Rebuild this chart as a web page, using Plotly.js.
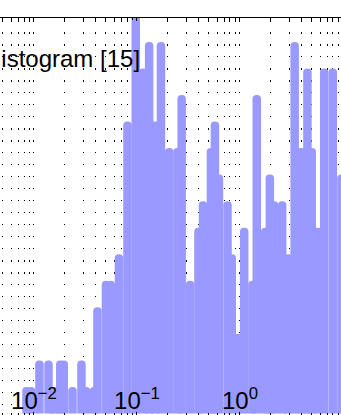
<!DOCTYPE html>
<html><head><meta charset="utf-8">
<script src="https://cdn.plot.ly/plotly-3.0.1.min.js"></script>
<style>html,body{margin:0;padding:0;background:#fff;overflow:hidden}#chart{width:341px;height:415px}</style>
</head><body><div id="chart"></div>
<script>
// bar positions (log10 of x) and counts, read left to right
const binLog10 = [-2.073,-2.029,-1.947,-1.859,-1.801,-1.745,-1.711,-1.626,-1.539,-1.495,-1.416,-1.384,-1.301,-1.255,-1.175,-1.092,-1.012,-0.942,-0.882,-0.825,-0.767,-0.687,-0.607,-0.566,-0.484,-0.403,-0.359,-0.282,-0.243,-0.204,-0.121,-0.080,-0.019,0.041,0.121,0.163,0.245,0.290,0.332,0.410,0.466,0.531,0.595,0.655,0.697,0.757,0.818,0.901,0.985];
const counts   = [1,1,2,2,1,2,2,1,2,1,1,4,5,5,6,11,16,13,14,11,14,10,10,12,5,7,8,10,11,9,8,6,3,7,5,12,7,9,8,8,6,14,10,13,10,7,13,13,9];
const tickExps   = [-2,-1,0];
const tickLabels = ['10<sup>\u22122</sup>','10<sup>\u22121</sup>','10<sup>0</sup>'];
const seriesName = 'Histogram [15]';

const minorVals = [];
for (let n=-3;n<=0;n++) for (let k=2;k<=9;k++) minorVals.push(Math.log10(k)+n);

const font = {family:'"Liberation Sans", Arial, Helvetica, sans-serif', color:'#000', size:24};

Plotly.newPlot('chart', [{
  type:'bar', x: binLog10, y: counts, name: seriesName,
  width: 0.0825,
  marker:{color:'#9999ff', line:{width:0}, cornerradius:4},
  showlegend:false, hoverinfo:'skip'
}], {
  width:341, height:415,
  margin:{l:0,r:0,t:18,b:0,pad:0},
  paper_bgcolor:'#fff', plot_bgcolor:'#fff',
  barmode:'overlay',
  font: font,
  xaxis:{
    range:[-2.330,0.981], showline:true, linecolor:'#000', linewidth:1, mirror:'ticks',
    tickmode:'array', tickvals: tickExps, ticktext: tickLabels,
    ticks:'inside', ticklen:3, tickcolor:'#000', ticklabelposition:'inside',
    showgrid:true, gridcolor:'#000', gridwidth:1, griddash:'0px,2px,1.5px,8.5px',
    zeroline:false, tickfont:font,
    minor:{tickmode:'array', tickvals:minorVals, ticks:'inside', ticklen:2, tickcolor:'#000',
           showgrid:true, gridcolor:'#000', gridwidth:1, griddash:'0px,2px,1.5px,8.5px'}
  },
  yaxis:{range:[-0.0565,14.90], showgrid:false, zeroline:false, showline:false, showticklabels:false, ticks:''},
  annotations:[{text: seriesName, xref:'paper', yref:'paper', x:142/341, y:(415-58.5)/397,
    xanchor:'right', yanchor:'middle', showarrow:false, font:font, bgcolor:'rgba(0,0,0,0)'}]
}, {staticPlot:true, displayModeBar:false});
</script></body></html>
